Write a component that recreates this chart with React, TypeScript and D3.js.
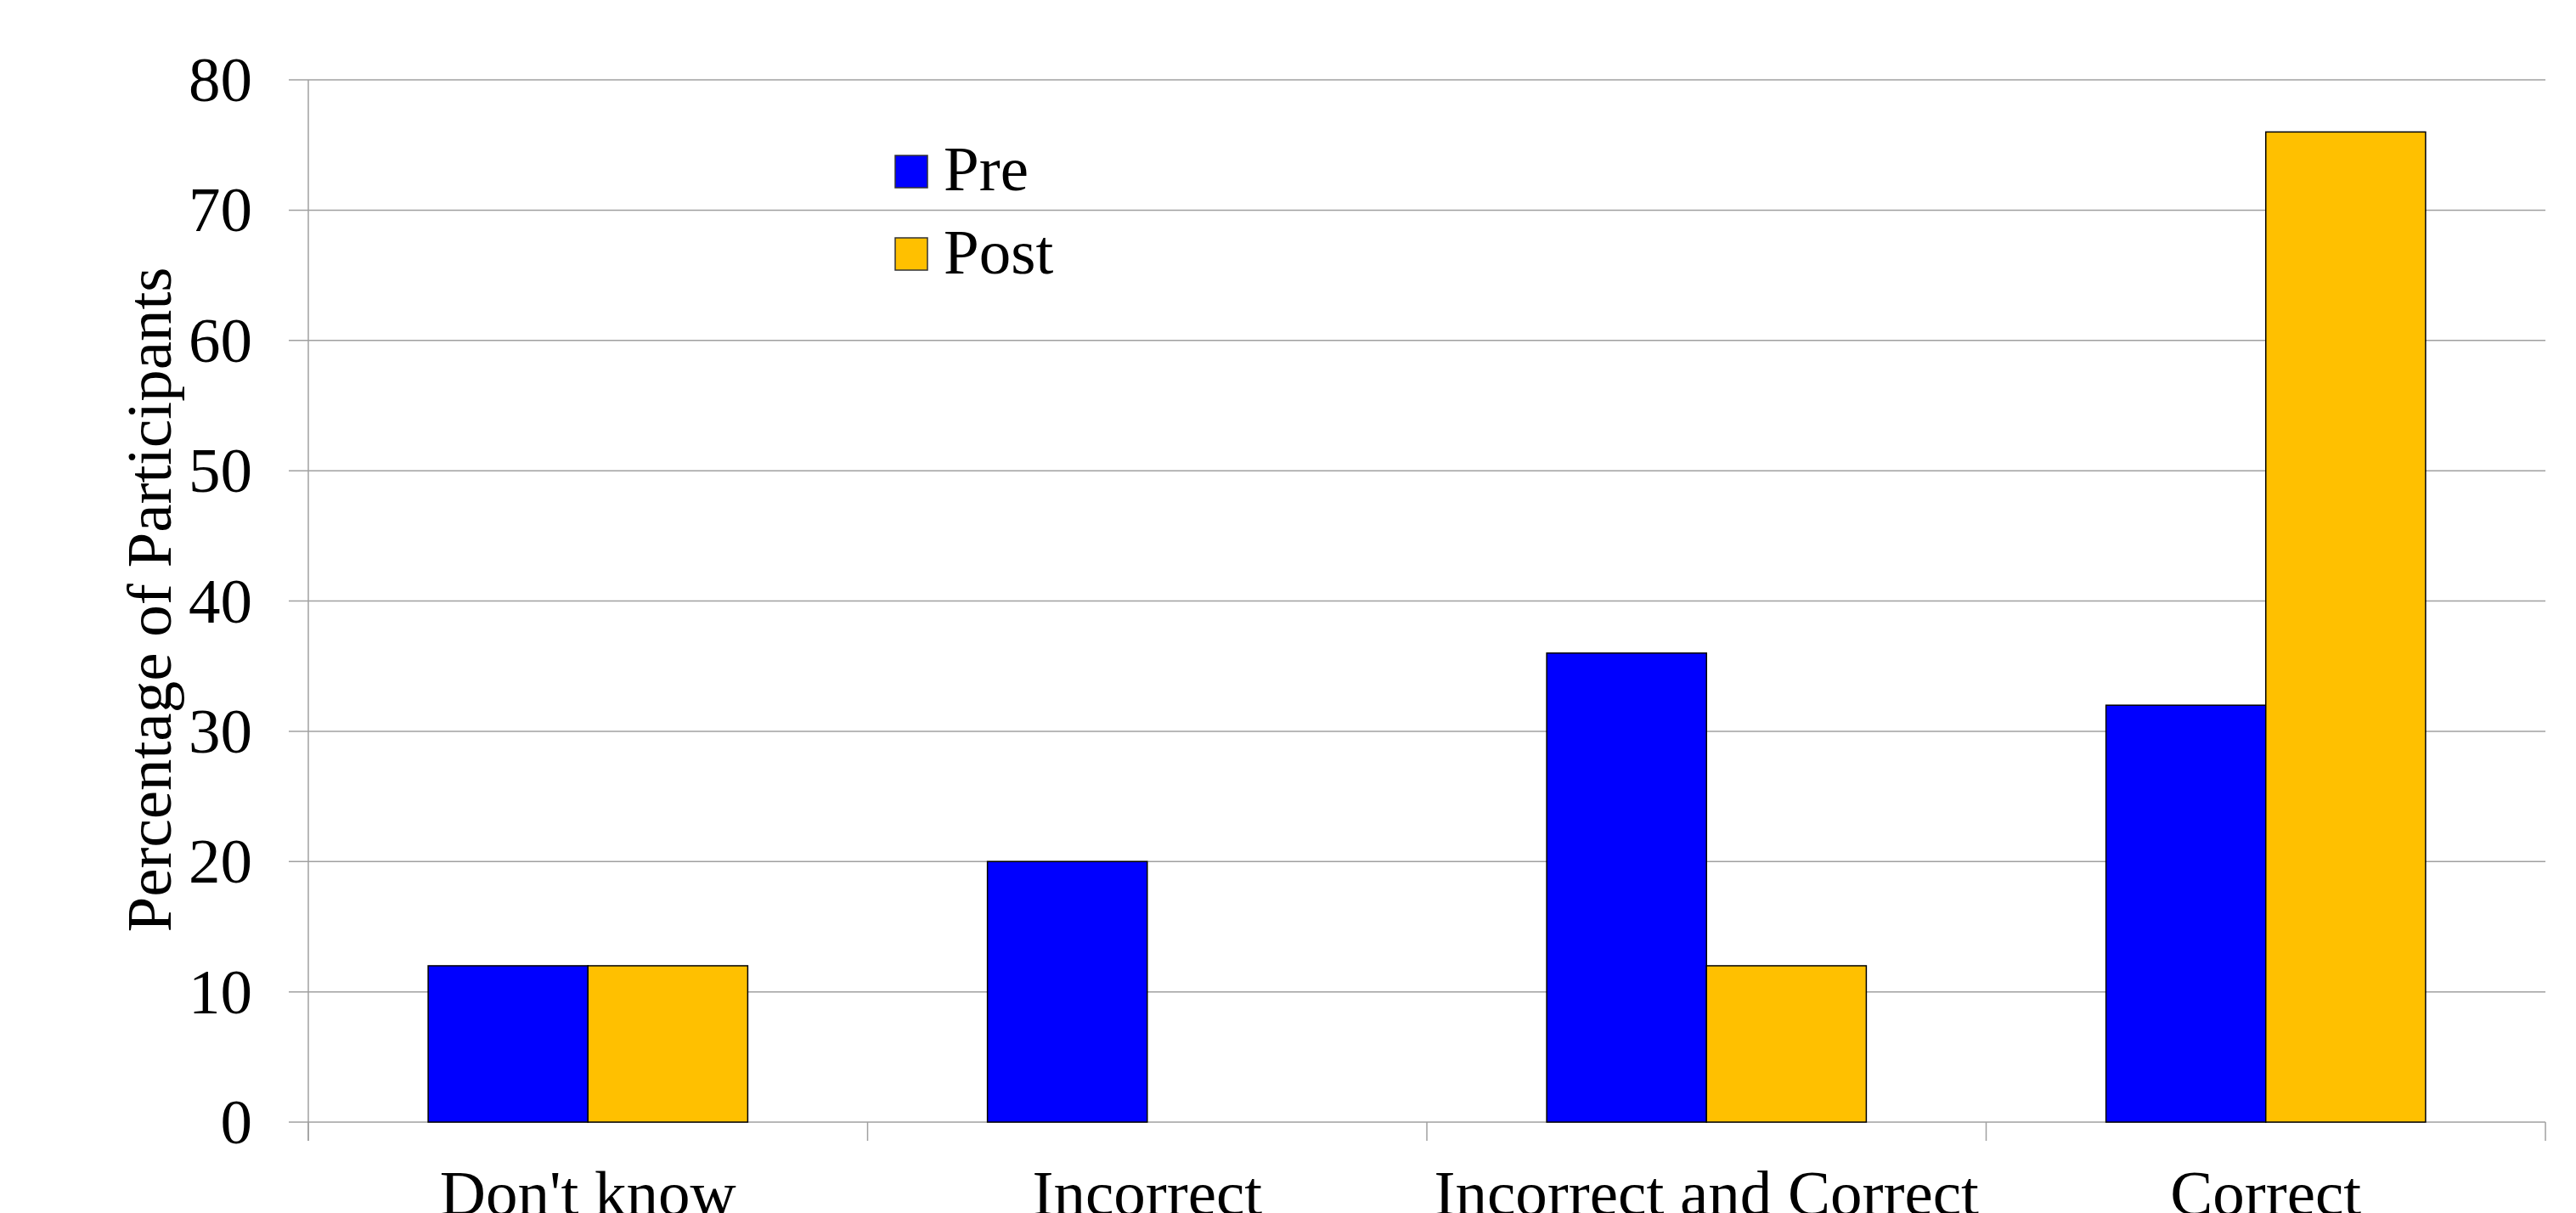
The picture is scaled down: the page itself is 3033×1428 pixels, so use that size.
import React from "react";
import * as d3 from "d3";

const categories = ["Don't know", "Incorrect", "Incorrect and Correct", "Correct"];
const seriesNames = ["Pre", "Post"];
const preValues = [12, 20, 36, 32];
const postValues = [12, 0, 12, 76];
const yTicks = [0, 10, 20, 30, 40, 50, 60, 70, 80];
const colors = ["#0000FF", "#FFC000"];

const W = 3033;
const H = 1428;
const FONT = "'Liberation Serif', 'Times New Roman', serif";

export default function App() {
  const left = 363;
  const right = 2997;
  const top = 94;
  const bottom = 1321;

  const x = d3.scaleBand<string>().domain(categories).range([left, right]).paddingInner(0).paddingOuter(0);
  const y = d3.scaleLinear().domain([0, 80]).range([bottom, top]);
  const groupW = x.bandwidth() / 1.75;
  const xs = d3.scaleBand<string>().domain(seriesNames).range([0, groupW]);
  const series = [preValues, postValues];

  const gridColor = "#a0a0a0";
  const boundaries = categories.map((c) => x(c) as number).concat([right]);

  return (
    <svg width={W} height={H} style={{ position: "absolute", left: 0, top: 0, background: "#fff" }} fontFamily={FONT}>
      <rect x={0} y={0} width={W} height={H} fill="#fff" />
      {/* gridlines and y ticks */}
      {yTicks.map((t) => (
        <g key={t}>
          <line x1={340} x2={right} y1={y(t)} y2={y(t)} stroke={gridColor} strokeWidth={1.5} />
          <text x={297} y={y(t) + 25} fontSize={75} textAnchor="end" fill="#000">
            {t}
          </text>
        </g>
      ))}
      {/* y axis line */}
      <line x1={left} x2={left} y1={top} y2={bottom + 22} stroke={gridColor} strokeWidth={1.5} />
      {/* x category ticks */}
      {boundaries.map((b, i) => (
        <line key={i} x1={b} x2={b} y1={bottom} y2={bottom + 22} stroke={gridColor} strokeWidth={1.5} />
      ))}
      {/* bars */}
      {categories.map((c, ci) => (
        <g key={c}>
          {seriesNames.map((s, si) => {
            const v = series[si][ci];
            if (v <= 0) return null;
            const bx = (x(c) as number) + (x.bandwidth() - groupW) / 2 + (xs(s) as number);
            return (
              <rect
                key={s}
                x={bx}
                y={y(v)}
                width={xs.bandwidth()}
                height={bottom - y(v)}
                fill={colors[si]}
                stroke="#000"
                strokeWidth={1.5}
              />
            );
          })}
        </g>
      ))}
      {/* category labels */}
      {categories.map((c) => (
        <text key={c} x={(x(c) as number) + x.bandwidth() / 2} y={1430} fontSize={75} textAnchor="middle" fill="#000">
          {c}
        </text>
      ))}
      {/* y title */}
      <text transform={`translate(201, 706) rotate(-90)`} fontSize={75} textAnchor="middle" fill="#000">
        Percentage of Participants
      </text>
      {/* legend */}
      {seriesNames.map((s, i) => (
        <g key={s}>
          <rect x={1054} y={183 + i * 97} width={38} height={38} fill={colors[i]} stroke="#333" strokeWidth={1.5} />
          <text x={1111} y={224 + i * 98} fontSize={75} fill="#000">
            {s}
          </text>
        </g>
      ))}
    </svg>
  );
}
